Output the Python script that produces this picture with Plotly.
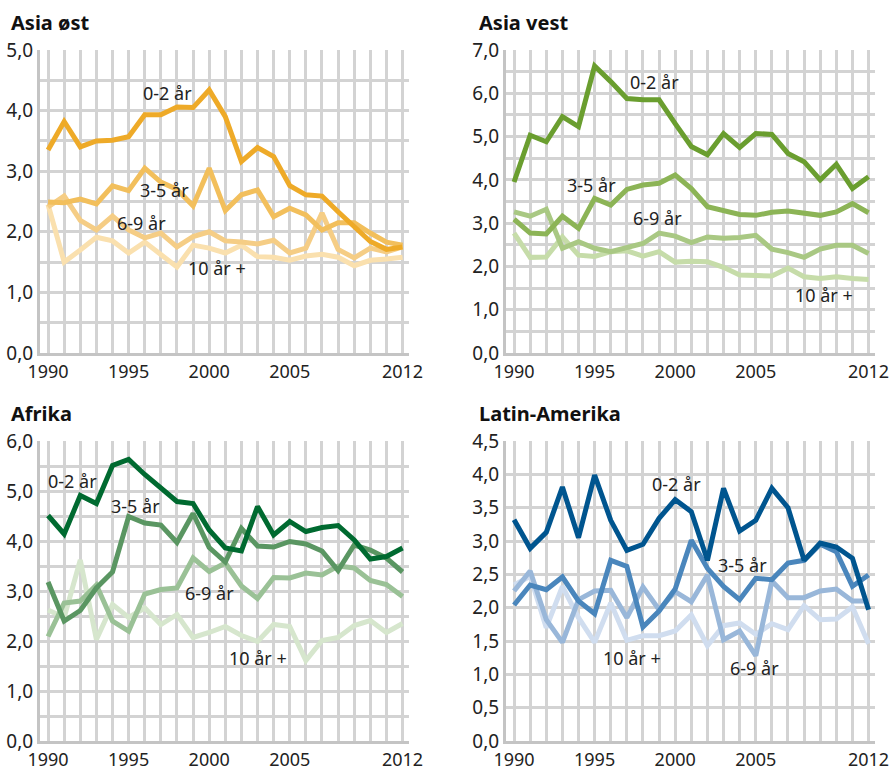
import plotly.graph_objects as go

W, H = 891, 771

YEARS = list(range(1990, 2013))
AGE_GROUPS = ["0-2 år", "3-5 år", "6-9 år", "10 år +"]
X_TICK_TEXT = ["1990", "", "", "", "", "1995", "", "", "", "", "2000", "", "", "", "",
               "2005", "", "", "", "", "", "", "2012"]

# Asia øst
asia_ost_0_2 = [3.35, 3.82, 3.40, 3.50, 3.51, 3.57, 3.93, 3.93, 4.06, 4.05, 4.34, 3.90,
                3.16, 3.39, 3.24, 2.76, 2.61, 2.59, 2.33, 2.08, 1.84, 1.71, 1.75]
asia_ost_3_5 = [2.49, 2.48, 2.54, 2.46, 2.76, 2.68, 3.05, 2.82, 2.70, 2.43, 3.05, 2.35,
                2.61, 2.69, 2.25, 2.39, 2.28, 2.03, 2.15, 2.15, 1.98, 1.83, 1.78]
asia_ost_6_9 = [2.41, 2.59, 2.19, 2.03, 2.26, 2.03, 1.90, 1.98, 1.75, 1.92, 2.00, 1.85,
                1.83, 1.80, 1.86, 1.65, 1.73, 2.31, 1.71, 1.57, 1.73, 1.67, 1.75]
asia_ost_10 = [2.45, 1.50, 1.70, 1.91, 1.85, 1.65, 1.83, 1.62, 1.42, 1.78, 1.73, 1.65,
               1.78, 1.59, 1.58, 1.53, 1.60, 1.63, 1.58, 1.44, 1.53, 1.55, 1.58]

# Asia vest
asia_vest_0_2 = [3.95, 5.03, 4.88, 5.46, 5.23, 6.63, 6.27, 5.88, 5.85, 5.85, 5.30, 4.77,
                 4.58, 5.07, 4.75, 5.07, 5.05, 4.61, 4.42, 4.00, 4.36, 3.80, 4.07]
asia_vest_3_5 = [3.09, 2.77, 2.75, 3.16, 2.88, 3.57, 3.42, 3.78, 3.88, 3.92, 4.11, 3.80,
                 3.38, 3.28, 3.20, 3.18, 3.25, 3.28, 3.23, 3.18, 3.26, 3.45, 3.24]
asia_vest_6_9 = [3.26, 3.16, 3.32, 2.42, 2.57, 2.42, 2.34, 2.45, 2.53, 2.77, 2.70, 2.55,
                 2.68, 2.65, 2.67, 2.72, 2.40, 2.32, 2.21, 2.40, 2.49, 2.49, 2.30]
asia_vest_10 = [2.77, 2.21, 2.22, 2.68, 2.26, 2.23, 2.34, 2.36, 2.24, 2.34, 2.10, 2.12,
                2.11, 1.98, 1.80, 1.78, 1.78, 1.96, 1.76, 1.72, 1.76, 1.72, 1.70]

# Afrika
afrika_0_2 = [4.51, 4.14, 4.91, 4.75, 5.51, 5.63, 5.33, 5.05, 4.79, 4.75, 4.22, 3.86,
              3.80, 4.69, 4.12, 4.39, 4.19, 4.27, 4.31, 4.02, 3.64, 3.69, 3.86]
afrika_3_5 = [3.18, 2.40, 2.61, 3.06, 3.38, 4.49, 4.36, 4.32, 3.97, 4.55, 3.87, 3.58,
              4.25, 3.90, 3.88, 3.99, 3.94, 3.80, 3.41, 3.92, 3.82, 3.66, 3.38]
afrika_6_9 = [2.09, 2.76, 2.80, 3.12, 2.40, 2.20, 2.94, 3.03, 3.06, 3.66, 3.39, 3.56,
              3.10, 2.85, 3.27, 3.26, 3.36, 3.32, 3.50, 3.46, 3.21, 3.13, 2.89]
afrika_10 = [2.62, 2.47, 3.62, 2.03, 2.73, 2.47, 2.66, 2.33, 2.53, 2.07, 2.17, 2.29,
             2.11, 1.99, 2.33, 2.29, 1.61, 2.01, 2.07, 2.31, 2.41, 2.17, 2.35]

# Latin-Amerika
latam_0_2 = [3.32, 2.89, 3.13, 3.81, 3.05, 3.99, 3.31, 2.86, 2.95, 3.34, 3.62, 3.44,
             2.71, 3.79, 3.15, 3.31, 3.79, 3.50, 2.71, 2.97, 2.91, 2.74, 1.97]
latam_3_5 = [2.04, 2.34, 2.27, 2.46, 2.10, 1.91, 2.71, 2.62, 1.71, 1.95, 2.28, 3.01,
             2.59, 2.32, 2.12, 2.44, 2.42, 2.67, 2.71, 2.95, 2.84, 2.32, 2.49]
latam_6_9 = [2.25, 2.55, 1.82, 1.48, 2.12, 2.25, 2.26, 1.85, 2.31, 1.97, 2.24, 2.09,
             2.49, 1.52, 1.65, 1.28, 2.40, 2.15, 2.15, 2.25, 2.28, 2.10, 2.10]
latam_10 = [2.34, 2.47, 1.70, 2.32, 1.85, 1.48, 2.07, 1.51, 1.58, 1.58, 1.65, 1.89,
            1.43, 1.73, 1.77, 1.60, 1.76, 1.67, 2.03, 1.82, 1.83, 2.01, 1.46]

GRID = "#d3d3d3"
TEXT = "#222222"
FONT = "Noto Sans, Open Sans, sans-serif"

panels = [
    dict(title="Asia øst", series=[asia_ost_0_2, asia_ost_3_5, asia_ost_6_9, asia_ost_10],
         colors=["#eeaa28", "#f2bf5c", "#f5cd85", "#fae0ae"],
         box=(40, 409, 50, 353), yrange=5.0, ydtick=0.5, ylabel_step=1.0,
         labels=[(1997.4, 4.29), (1997.25, 2.69), (1995.8, 2.15), (2000.5, 1.40)],
         title_pos=(9, 22)),
    dict(title="Asia vest", series=[asia_vest_0_2, asia_vest_3_5, asia_vest_6_9, asia_vest_10],
         colors=["#6a9e2f", "#8cb456", "#a9c883", "#c6dca9"],
         box=(506, 875, 50, 353), yrange=7.0, ydtick=0.5, ylabel_step=1.0,
         labels=[(1998.7, 6.26), (1994.8, 3.88), (1998.9, 3.12), (2009.25, 1.34)],
         title_pos=(477, 22)),
    dict(title="Afrika", series=[afrika_0_2, afrika_3_5, afrika_6_9, afrika_10],
         colors=["#006a30", "#5a9662", "#9ac196", "#d6e6cd"],
         box=(40, 409, 441, 741), yrange=6.0, ydtick=0.5, ylabel_step=1.0,
         labels=[(1991.5, 5.21), (1995.4, 4.71), (2000.0, 2.96), (2003.0, 1.67)],
         title_pos=(9, 413)),
    dict(title="Latin-Amerika", series=[latam_0_2, latam_3_5, latam_6_9, latam_10],
         colors=["#00558f", "#4a86bc", "#99b7d9", "#d0ddef"],
         box=(506, 875, 441, 741), yrange=4.5, ydtick=0.5, ylabel_step=0.5,
         labels=[(2000.1, 3.86), (2004.2, 2.64), (2004.9, 1.10), (1997.3, 1.25)],
         title_pos=(477, 413)),
]

fig = go.Figure()
layout = dict(
    width=W, height=H,
    margin=dict(l=0, r=0, t=0, b=0),
    paper_bgcolor="white", plot_bgcolor="white",
    showlegend=False,
    separators=", ",
    font=dict(family=FONT, size=19, color=TEXT),
)
annotations = []

for i, p in enumerate(panels):
    n = "" if i == 0 else str(i + 1)
    xa, ya = "x" + n, "y" + n
    x0, x1, y0, y1 = p["box"]
    # lightest first so the darker lines sit on top
    for vals, name, col in reversed(list(zip(p["series"], AGE_GROUPS, p["colors"]))):
        fig.add_trace(go.Scatter(x=YEARS, y=vals, name=name, mode="lines",
                                 line=dict(color=col, width=5), xaxis=xa, yaxis=ya,
                                 cliponaxis=False))
    yticks = []
    v = 0.0
    while v <= p["yrange"] + 1e-9:
        yticks.append(round(v, 2))
        v += p["ydtick"]
    ytext = [f"{t:.1f}".replace(".", ",") if abs(t / p["ylabel_step"] - round(t / p["ylabel_step"])) < 1e-6 else ""
             for t in yticks]
    layout["xaxis" + n] = dict(
        domain=[x0 / W, x1 / W], anchor=ya, range=[1989.5, 2012.4], automargin=False,
        tickvals=YEARS, ticktext=X_TICK_TEXT, showgrid=True, gridcolor=GRID, gridwidth=3,
        showline=True, linecolor="#c4c4c4", linewidth=3, zeroline=False,
        ticks="", ticklabelstandoff=0,
        tickfont=dict(size=18, color=TEXT), fixedrange=True,
    )
    layout["yaxis" + n] = dict(
        domain=[(H - y1) / H, (H - y0) / H], anchor=xa, range=[0, p["yrange"]], automargin=False,
        tickvals=yticks, ticktext=ytext, showgrid=True, gridcolor=GRID, gridwidth=3,
        showline=True, linecolor="#c4c4c4", linewidth=3, zeroline=False,
        ticks="", tickfont=dict(size=19, color=TEXT), ticklabelstandoff=0, fixedrange=True,
    )
    annotations.append(dict(text=f"<b>{p['title']}</b>", xref="paper", yref="paper",
                            x=p["title_pos"][0] / W, y=1 - p["title_pos"][1] / H,
                            xanchor="left", yanchor="middle", showarrow=False,
                            font=dict(size=20, color="#111111")))
    for (lx, ly), name in zip(p["labels"], AGE_GROUPS):
        annotations.append(dict(text=name, xref=xa, yref=ya, x=lx, y=ly, showarrow=False,
                                xanchor="center", yanchor="middle",
                                font=dict(size=18, color=TEXT)))

layout["annotations"] = annotations
fig.update_layout(**layout)
# the page opens at exactly the figure size, so drop the default body margin
fig.write_html("out.html", config={"displayModeBar": False},
               post_script="document.body.style.margin='0';"
                           "document.body.style.overflow='hidden';")
